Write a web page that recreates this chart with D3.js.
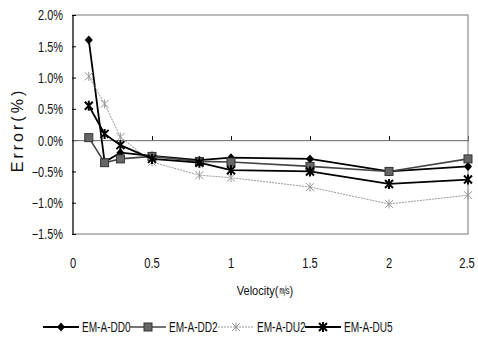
<!DOCTYPE html>
<html>
<head>
<meta charset="utf-8">
<script src="https://cdn.jsdelivr.net/npm/d3@7"></script>
<style>
body{margin:0;background:#fff;}
text{font-family:"Liberation Sans Narrow","Arial Narrow","Liberation Sans",sans-serif;fill:#111;}
</style>
</head>
<body>
<script>
// values
var velocity = [0.1, 0.2, 0.3, 0.5, 0.8, 1.0, 1.5, 2.0, 2.5];
var seriesNames = ["EM-A-DD0", "EM-A-DD2", "EM-A-DU2", "EM-A-DU5"];
var dd0 = [1.6, -0.35, -0.2, -0.25, -0.32, -0.28, -0.3, -0.5, -0.42];
var dd2 = [0.04, -0.36, -0.3, -0.26, -0.34, -0.35, -0.42, -0.5, -0.3];
var du2 = [1.02, 0.58, 0.05, -0.35, -0.56, -0.6, -0.75, -1.02, -0.88];
var du5 = [0.55, 0.1, -0.08, -0.3, -0.36, -0.48, -0.5, -0.7, -0.63];
var xTicks = [0, 0.5, 1, 1.5, 2, 2.5];
var yTicks = [2.0, 1.5, 1.0, 0.5, 0.0, -0.5, -1.0, -1.5];

var series = [
  {name: seriesNames[0], values: dd0, color: "#000", width: 1.8, dash: null, marker: "diamond"},
  {name: seriesNames[1], values: dd2, color: "#444", width: 1.6, dash: null, marker: "square"},
  {name: seriesNames[2], values: du2, color: "#999", width: 1, dash: "2,1", marker: "cross"},
  {name: seriesNames[3], values: du5, color: "#000", width: 1.8, dash: null, marker: "star"}
];

var W = 478, H = 350;
var svg = d3.select("body").append("svg").attr("width", W).attr("height", H);

var x = d3.scaleLinear().domain([0, 2.5]).range([73, 468]);
var y = d3.scaleLinear().domain([-1.5, 2.0]).range([234, 15]);

// squeeze text horizontally, the reference uses a narrow font
function narrow(sel, k){
  sel.each(function(){
    var len = this.getComputedTextLength();
    d3.select(this).attr("textLength", len * k).attr("lengthAdjust", "spacingAndGlyphs");
  });
}

// plot frame
svg.append("rect").attr("x", 73).attr("y", 15).attr("width", 395).attr("height", 219)
  .attr("fill", "none").attr("stroke", "#777").attr("stroke-width", 1);
svg.append("line").attr("x1", 73).attr("x2", 73).attr("y1", 15).attr("y2", 234)
  .attr("stroke", "#000").attr("stroke-width", 1);

// y axis
var yAxis = svg.append("g").attr("transform", "translate(73,0)")
  .call(d3.axisLeft(y).tickValues(yTicks).tickSize(3).tickFormat(function(d){ return d3.format(".1f")(d) + "%"; }));
yAxis.select(".domain").remove();
yAxis.selectAll("text").attr("x", -10).attr("font-size", 14).attr("dy", "0.35em")
  .style("font-family", "'Liberation Sans Narrow','Liberation Sans',sans-serif").style("fill", "#111");
yAxis.selectAll("line").attr("x1", 3).attr("x2", -1);
narrow(yAxis.selectAll("text"), 0.78);

// zero line with ticks
var zeroAxis = svg.append("g").attr("transform", "translate(0," + y(0) + ")")
  .call(d3.axisTop(x).tickValues(xTicks.slice(1, 5)).tickSize(4).tickFormat(""));
zeroAxis.select(".domain").attr("stroke", "#666");

// x tick labels at bottom
var xl = svg.append("g").selectAll("text").data(xTicks).enter().append("text")
  .attr("x", function(d){ return d === 2.5 ? x(d) - 1 : x(d); })
  .attr("y", 268)
  .attr("text-anchor", "middle")
  .attr("font-size", 14)
  .text(function(d){ return d; });
narrow(xl, 0.8);

// axis titles
var xt = svg.append("text").attr("x", 265).attr("y", 295).attr("text-anchor", "middle")
  .attr("font-size", 13).text("Velocity(㎧)");
narrow(xt, 0.85);
svg.append("text").attr("transform", "translate(23,130) rotate(-90)")
  .attr("text-anchor", "middle").attr("font-size", 16).attr("letter-spacing", 3)
  .text("Error(%)");

var line = d3.line().x(function(d, i){ return x(velocity[i]); }).y(function(d){ return y(d); });

function drawMarker(g, type, color){
  if (type === "diamond"){
    g.append("path").attr("d", "M0,-4.5L4,0L0,4.5L-4,0Z").attr("fill", color);
  } else if (type === "square"){
    g.append("rect").attr("x", -4).attr("y", -4).attr("width", 8).attr("height", 8)
      .attr("fill", "#666").attr("stroke", "#333").attr("stroke-width", 1);
  } else if (type === "cross"){
    g.append("path").attr("d", "M-4,-4L4,4M-4,4L4,-4M0,-4.5L0,4.5")
      .attr("stroke", color).attr("stroke-width", 1).attr("fill", "none");
  } else if (type === "star"){
    g.append("path").attr("d", "M-4,-4L4,4M-4,4L4,-4M0,-5L0,5")
      .attr("stroke", color).attr("stroke-width", 2).attr("fill", "none");
  }
}

series.forEach(function(s){
  svg.append("path").datum(s.values)
    .attr("d", line)
    .attr("fill", "none")
    .attr("stroke", s.color)
    .attr("stroke-width", s.width)
    .attr("stroke-dasharray", s.dash);
  s.values.forEach(function(v, i){
    var g = svg.append("g").attr("transform", "translate(" + x(velocity[i]) + "," + y(v) + ")");
    drawMarker(g, s.marker, s.color);
  });
});

// legend
var legendX = [43, 130, 218, 305];
series.forEach(function(s, i){
  var lx = legendX[i], ly = 327;
  svg.append("line").attr("x1", lx).attr("x2", lx + 36).attr("y1", ly).attr("y2", ly)
    .attr("stroke", s.color).attr("stroke-width", s.width).attr("stroke-dasharray", s.dash);
  var g = svg.append("g").attr("transform", "translate(" + (lx + 18) + "," + ly + ")");
  drawMarker(g, s.marker, s.color);
  var t = svg.append("text").attr("x", lx + 39).attr("y", ly + 5).attr("font-size", 14).text(s.name);
  narrow(t, 0.72);
});
</script>
</body>
</html>
